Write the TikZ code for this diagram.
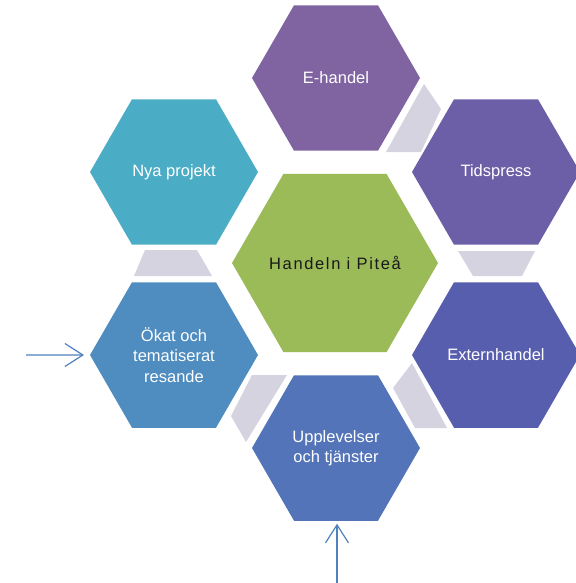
\documentclass[tikz,border=0pt]{standalone}
\usepackage{fontspec}
\setmainfont{Liberation Sans}
\newfontfamily\widefont[LetterSpace=10]{Liberation Sans}
\usetikzlibrary{shapes.geometric,arrows.meta}

% fills of the outer ring, from purple round to turquoise
\definecolor{hexA}{RGB}{128,100,162}
\definecolor{hexB}{RGB}{108,95,167}
\definecolor{hexC}{RGB}{88,94,174}
\definecolor{hexD}{RGB}{83,116,185}
\definecolor{hexE}{RGB}{79,141,192}
\definecolor{hexF}{RGB}{75,172,198}
\definecolor{hub}{RGB}{155,187,89}
\definecolor{link}{RGB}{214,211,225}
\definecolor{arrowblue}{RGB}{79,129,189}

\begin{document}
\begin{tikzpicture}[x=1pt,y=-1pt,
  hexbox/.style={regular polygon, regular polygon sides=6, minimum size=168pt,
    inner sep=0pt, outer sep=0pt, fill=#1, text=white, align=center,
    font=\fontsize{16.5}{20.5}\selectfont},
  hubbox/.style={regular polygon, regular polygon sides=6, minimum size=206pt,
    inner sep=0pt, outer sep=0pt, fill=hub},
  hubtext/.style={inner sep=0pt, text=black!90,
    font=\widefont\fontsize{16.5}{20}\selectfont},
  linkbar/.style={fill=link},
  inarrow/.style={draw=arrowblue, line width=1.2pt,
    -{Straight Barb[length=18pt,width=23pt,line width=1.2pt]}}
]
\useasboundingbox (0,0) rectangle (575,583);

% small joining pieces between neighbouring hexagons
\fill[linkbar] (424,84) -- (441,109) -- (421,152) -- (386,152) -- cycle;
\fill[linkbar] (458,251) -- (535,251) -- (522,276) -- (473,276) -- cycle;
\fill[linkbar] (145,250) -- (197,250) -- (212,276) -- (134,276) -- cycle;
\fill[linkbar] (252,375) -- (287,375) -- (246,442) -- (231,416) -- cycle;
\fill[linkbar] (412,363) -- (447,428) -- (415,428) -- (393,388) -- cycle;

% the hexagons
\node[hubbox] (hub) at (335,263) {};
\node[hubtext] (hubtitle) at (hub.center) {Handeln i Piteå};
\node[hexbox=hexA] (ehandel) at (336,78) {E-handel};
\node[hexbox=hexB] (tid) at (496,172) {Tidspress};
\node[hexbox=hexC] (extern) at (496,355) {Externhandel};
\node[hexbox=hexD] (upp) at (336,448) {Upplevelser\\och tjänster};
\node[hexbox=hexE] (okat) at (174,355) {Ökat och\\tematiserat\\resande};
\node[hexbox=hexF] (nya) at (174,172) {Nya projekt};

% incoming arrows
\coordinate (leftin) at (26,355);
\coordinate (bottomin) at (337,583);
\draw[inarrow, shorten >=6pt] (leftin) -- (okat.west);
\draw[inarrow, shorten >=3pt] (bottomin) -- (bottomin |- upp.south);
\end{tikzpicture}
\end{document}
